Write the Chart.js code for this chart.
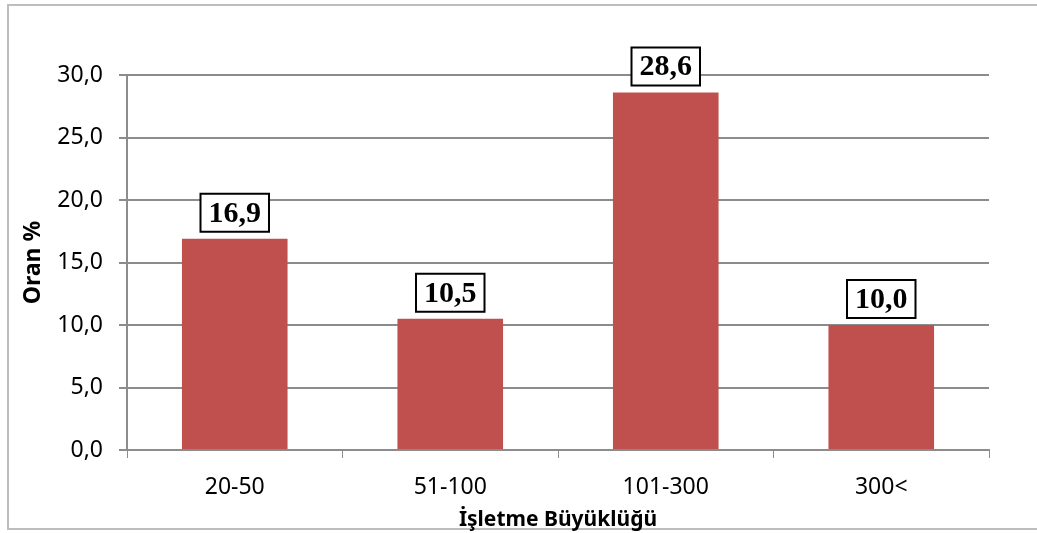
<!DOCTYPE html>
<html>
<head>
<meta charset="utf-8">
<script src="https://cdn.jsdelivr.net/npm/chart.js@4"></script>
<style>
  html, body { margin: 0; padding: 0; background: #fff; }
  #wrap { position: relative; width: 1037px; height: 533px; overflow: hidden; }
  #frame { position: absolute; left: 7px; top: 4px; width: 1060px; height: 526px; border: 2px solid #bdbdbd; box-sizing: border-box; }
  canvas { position: absolute; left: 0; top: 0; }
</style>
</head>
<body>
<div id="wrap">
  <div id="frame"></div>
  <canvas id="miGrafico" width="1037" height="533"></canvas>
</div>
<script>
const kategoriler = ["20-50", "51-100", "101-300", "300<"];
const oranlar = [16.9, 10.5, 28.6, 10.0];
const yEksen = { min: 0, max: 30, adim: 5 };

function virgul(v) {
  return Number(v).toFixed(1).replace(".", ",");
}

// kutulu veri etiketleri
const kutuEtiket = {
  id: "kutuEtiket",
  afterDatasetsDraw(chart) {
    const ctx = chart.ctx;
    const meta = chart.getDatasetMeta(0);
    ctx.save();
    ctx.font = "bold 30px 'Liberation Serif', 'Times New Roman', serif";
    ctx.textAlign = "center";
    ctx.textBaseline = "middle";
    meta.data.forEach(function (bar, i) {
      const txt = virgul(oranlar[i]);
      const w = ctx.measureText(txt).width + 16;
      const h = 38;
      const x = bar.x;
      const alt = bar.y - 7;
      ctx.fillStyle = "#fff";
      ctx.fillRect(x - w / 2, alt - h, w, h);
      ctx.strokeStyle = "#000";
      ctx.lineWidth = 2;
      ctx.strokeRect(x - w / 2, alt - h, w, h);
      ctx.fillStyle = "#000";
      ctx.fillText(txt, x, alt - h / 2 + 1);
    });
    ctx.restore();
  },
};

const ctx = document.getElementById("miGrafico").getContext("2d");
new Chart(ctx, {
  type: "bar",
  data: {
    labels: kategoriler,
    datasets: [
      {
        data: oranlar,
        backgroundColor: "#C0504D",
        borderWidth: 0,
        categoryPercentage: 0.49,
        barPercentage: 1,
      },
    ],
  },
  plugins: [kutuEtiket],
  options: {
    responsive: false,
    animation: false,
    layout: { padding: { left: 0, right: 48, top: 75, bottom: 0 } },
    plugins: {
      legend: { display: false },
      tooltip: { enabled: false },
    },
    scales: {
      x: {
        afterFit(scale) { scale.height = 83; },
        grid: {
          offset: true,
          drawOnChartArea: false,
          color: "#8c8c8c",
          tickLength: 8,
        },
        border: { color: "#8c8c8c", width: 2 },
        ticks: {
          color: "#000",
          padding: 16,
          font: { family: "'Noto Sans', sans-serif", size: 23 },
        },
        title: {
          display: true,
          text: "İşletme Büyüklüğü",
          color: "#000",
          padding: { top: -12, bottom: 0 },
          font: { family: "'Noto Sans', sans-serif", size: 21, weight: "bold" },
        },
      },
      y: {
        min: yEksen.min,
        max: yEksen.max,
        afterFit(scale) { scale.width = 127; },
        grid: {
          color: "#8c8c8c",
          lineWidth: 2,
          tickLength: 8,
        },
        border: { color: "#8c8c8c", width: 2 },
        ticks: {
          stepSize: yEksen.adim,
          color: "#000",
          padding: 16,
          font: { family: "'Noto Sans', sans-serif", size: 23 },
          callback: function (v) { return virgul(v); },
        },
        title: {
          display: true,
          text: "Oran %",
          color: "#000",
          padding: { top: 20, bottom: 0 },
          font: { family: "'Noto Sans', sans-serif", size: 23, weight: "bold" },
        },
      },
    },
  },
});
</script>
</body>
</html>
